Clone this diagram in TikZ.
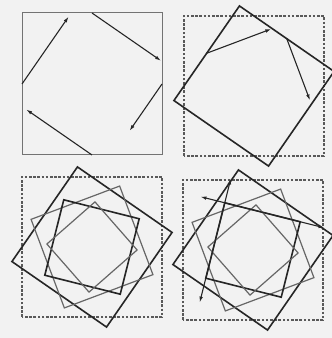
\documentclass[tikz,border=0pt]{standalone}
\usetikzlibrary{calc, arrows.meta}
\begin{document}
\begin{tikzpicture}[x=1pt, y=1pt, >={Latex[length=6pt, width=3.6pt]},
    khung/.style={gray!90!black, line width=1pt},
    khungdut/.style={gray!70!black, line width=1.2pt, dash pattern=on 2.6pt off 1.6pt},
    vuongden/.style={black!85, line width=1.6pt},
    vuongxam/.style={gray!80!black, line width=1.2pt},
    muiten/.style={->, gray!30!black, line width=1.1pt}]
    \pgfmathsetmacro{\ang}{34.7}
    \pgfmathsetmacro{\hs}{cos(\ang)}

    % 0. Nen va khung anh
    \fill[black!5] (0,0) rectangle (332,338);
    \useasboundingbox (0,0) rectangle (332,338);

    % 1. Hinh vuong goc va 4 mui ten tu trung diem cac canh
    \begin{scope}[shift={(92,254)}]
        \draw[khung] (-70,-71) rectangle (70,71);
        \draw[muiten] (-70,0) -- ++(90-\ang:82);
        \draw[muiten] (0,71) -- ++(-\ang:84);
        \draw[muiten] (70,0) -- ++(-90-\ang:57);
        \draw[muiten] (0,-71) -- ++(180-\ang:80);
    \end{scope}

    % 2. Hinh vuong xoay lan thu nhat va 2 mui ten tiep theo
    \begin{scope}[shift={(254,252)}]
        \draw[khungdut] (-70,-70) rectangle (70,70);
        \draw[vuongden, rotate=-\ang] (-70*\hs,-70*\hs) rectangle (70*\hs,70*\hs);
        \draw[muiten] (180-\ang:70*\hs) -- ++(90-2*\ang:69);
        \draw[muiten] (90-\ang:70*\hs) -- ++(-2*\ang:66);
    \end{scope}

    % 3. Cac hinh vuong xoay lien tiep (den - xam xen ke)
    \foreach \cx/\cy in {92/91, 253/88} {
        \begin{scope}[shift={(\cx,\cy)}]
            \draw[khungdut] (-70,-70) rectangle (70,70);
            \foreach \k in {1,...,4} {
                \pgfmathsetmacro{\r}{70*\hs^\k}
                \pgfmathtruncatemacro{\le}{mod(\k,2)}
                \ifnum\le=1
                    \draw[vuongden, rotate=-\k*\ang] (-\r,-\r) rectangle (\r,\r);
                \else
                    \draw[vuongxam, rotate=-\k*\ang] (-\r,-\r) rectangle (\r,\r);
                \fi
            }
        \end{scope}
    }

    % 4. Keo dai hai canh cua hinh vuong thu ba (mui ten hai dau)
    \begin{scope}[shift={(253,88)}]
        \pgfmathsetmacro{\r}{70*\hs^3}
        \draw[muiten, <->] ($(180-3*\ang:\r)+(270-3*\ang:64)$) -- ($(180-3*\ang:\r)+(90-3*\ang:64)$);
        \draw[muiten, <->] ($(270-3*\ang:\r)+(180-3*\ang:64)$) -- ($(270-3*\ang:\r)+(-3*\ang:64)$);
    \end{scope}

\end{tikzpicture}
\end{document}
